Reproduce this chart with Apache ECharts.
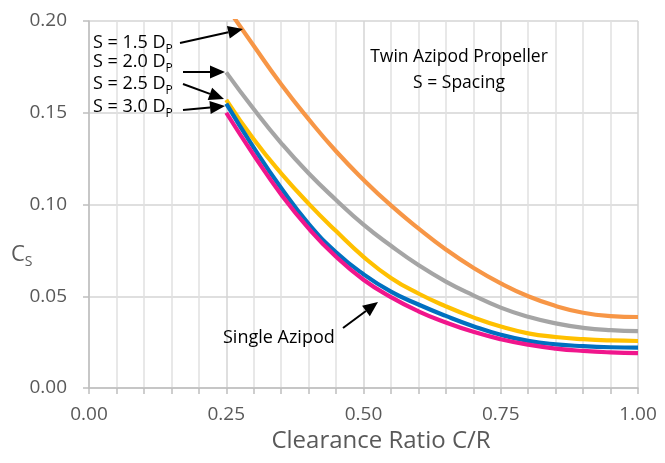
<!DOCTYPE html>
<html>
<head>
<meta charset="utf-8">
<script src="https://cdn.jsdelivr.net/npm/echarts@6/dist/echarts.min.js"></script>
<style>
  html, body { margin: 0; padding: 0; background: #fff; }
  #chart { width: 665px; height: 463px; }
</style>
</head>
<body>
<div id="chart"></div>
<script>
// clearance ratio C/R
var xValues = [0.25, 0.30, 0.35, 0.40, 0.45, 0.50, 0.55, 0.60, 0.65, 0.70, 0.75, 0.80, 0.85, 0.90, 0.95, 1.00];
// Cs for twin azipod, by spacing
var spacing15 = [0.208, 0.1865, 0.1655, 0.1465, 0.129, 0.1135, 0.0995, 0.087, 0.0755, 0.0655, 0.057, 0.050, 0.0447, 0.041, 0.0392, 0.0387];
var spacing20 = [0.172, 0.152, 0.1335, 0.117, 0.1025, 0.089, 0.0775, 0.067, 0.058, 0.0505, 0.0438, 0.0388, 0.0352, 0.0328, 0.0315, 0.031];
var spacing25 = [0.157, 0.1355, 0.117, 0.1005, 0.0855, 0.0715, 0.060, 0.0515, 0.0445, 0.0385, 0.0335, 0.0298, 0.0278, 0.0266, 0.0259, 0.0256];
var spacing30 = [0.155, 0.131, 0.109, 0.0895, 0.074, 0.062, 0.0525, 0.0455, 0.0393, 0.0337, 0.029, 0.0257, 0.0238, 0.0228, 0.0222, 0.022];
// single azipod
var single = [0.150, 0.127, 0.1055, 0.087, 0.0715, 0.059, 0.0495, 0.0418, 0.0357, 0.0306, 0.0266, 0.0236, 0.0215, 0.0202, 0.0194, 0.019];
var xTicks = [0, 0.25, 0.5, 0.75, 1];
var yTicks = [0, 0.05, 0.10, 0.15, 0.20];

var FONT = 'Open Sans';

function pairs(ys) {
    return xValues.map(function (x, i) { return [x, ys[i]]; });
}

function curve(name, ys, color) {
    return {
        name: name,
        type: 'line',
        data: pairs(ys),
        smooth: 0.5,
        showSymbol: false,
        symbol: 'none',
        lineStyle: { color: color, width: 4.2 },
        z: 3
    };
}

// arrow from tail to tip, in pixels
function arrow(x1, y1, x2, y2) {
    var a = Math.atan2(y2 - y1, x2 - x1);
    var L = 15, W = 6.5;
    var bx = x2 - L * Math.cos(a), by = y2 - L * Math.sin(a);
    return [{
        type: 'line',
        shape: { x1: x1, y1: y1, x2: bx, y2: by },
        style: { stroke: '#000', lineWidth: 2 },
        z: 10
    }, {
        type: 'polygon',
        shape: { points: [[x2, y2], [bx + W * Math.sin(a), by - W * Math.cos(a)], [bx - W * Math.sin(a), by + W * Math.cos(a)]] },
        style: { fill: '#000' },
        z: 10
    }];
}

function label(x, y, txt, sub) {
    return {
        type: 'text',
        left: x, top: y,
        style: {
            text: '{n|' + txt + '}{s|' + sub + '}',
            rich: {
                n: { fontFamily: FONT, fontSize: 18, lineHeight: 26, fill: '#000' },
                s: { fontFamily: FONT, fontSize: 12, lineHeight: 12, verticalAlign: 'bottom', fill: '#000' }
            }
        },
        z: 10
    };
}

// only label the major x ticks (0.25 steps)
function isMajor(v) {
    return xTicks.some(function (t) { return Math.abs(t - v) < 1e-6; });
}

var chart = echarts.init(document.getElementById('chart'));

var graphics = [
    label(93, 34, 'S = 1.5 D', 'P'),
    label(93, 53, 'S = 2.0 D', 'P'),
    label(93, 75, 'S = 2.5 D', 'P'),
    label(93, 98, 'S = 3.0 D', 'P'),
    {
        type: 'text', x: 459, y: 44,
        style: { text: 'Twin Azipod Propeller\nS = Spacing', fontFamily: FONT, fontSize: 17.5, lineHeight: 26, fill: '#000', align: 'center', verticalAlign: 'top' },
        z: 10
    },
    {
        type: 'text', x: 223, y: 329,
        style: { text: 'Single Azipod', fontFamily: FONT, fontSize: 18, fill: '#000', align: 'left', verticalAlign: 'top' },
        z: 10
    },
    {
        type: 'text', x: 381, y: 429,
        style: { text: 'Clearance Ratio C/R', fontFamily: FONT, fontSize: 24, fill: '#595959', align: 'center', verticalAlign: 'top' }
    },
    {
        type: 'text', left: 11, top: 244,
        style: {
            text: '{c|C}{s|S}',
            rich: {
                c: { fontFamily: FONT, fontSize: 22, lineHeight: 28, fill: '#595959' },
                s: { fontFamily: FONT, fontSize: 14, lineHeight: 14, verticalAlign: 'bottom', fill: '#595959' }
            }
        }
    }
];
graphics = graphics
    .concat(arrow(180, 43, 243, 29))
    .concat(arrow(183, 72, 225, 72))
    .concat(arrow(183, 84, 224, 99))
    .concat(arrow(183, 110, 225, 106))
    .concat(arrow(343, 328, 378, 302));

var option = {
    animation: false,
    backgroundColor: '#fff',
    grid: { left: 89, right: 27, top: 21, bottom: 75 },
    xAxis: {
        type: 'value',
        min: xTicks[0], max: xTicks[xTicks.length - 1], interval: 0.05,
        axisLine: { show: true, lineStyle: { color: '#BFBFBF', width: 1.5 } },
        axisTick: { show: true, length: 6, lineStyle: { color: '#BFBFBF', width: 1.5 } },
        splitLine: {
            show: true,
            lineStyle: { color: ['#D4D4D4', '#E0E0E0', '#E0E0E0', '#E0E0E0', '#E0E0E0'], width: 1.5 }
        },
        axisLabel: {
            margin: 17, fontFamily: FONT, fontSize: 19, color: '#595959', showMinLabel: true, showMaxLabel: true,
            hideOverlap: false,
            formatter: function (v) { return isMajor(v) ? v.toFixed(2) : ''; }
        }
    },
    yAxis: {
        type: 'value',
        min: yTicks[0], max: yTicks[yTicks.length - 1], interval: 0.05,
        axisLine: { show: true, lineStyle: { color: '#BFBFBF', width: 1.5 } },
        axisTick: { show: true, length: 6, lineStyle: { color: '#BFBFBF', width: 1.5 } },
        splitLine: { show: true, lineStyle: { color: '#D4D4D4', width: 1.5 } },
        axisLabel: { margin: 22, fontFamily: FONT, fontSize: 19, color: '#595959', formatter: function (v) { return v.toFixed(2); } }
    },
    series: [
        curve('S = 1.5 Dp', spacing15, '#F79646'),
        curve('S = 2.0 Dp', spacing20, '#A5A5A5'),
        curve('S = 2.5 Dp', spacing25, '#FFC000'),
        curve('S = 3.0 Dp', spacing30, '#0070C0'),
        curve('Single Azipod', single, '#F0168C')
    ],
    graphic: graphics
};

chart.setOption(option);
</script>
</body>
</html>
